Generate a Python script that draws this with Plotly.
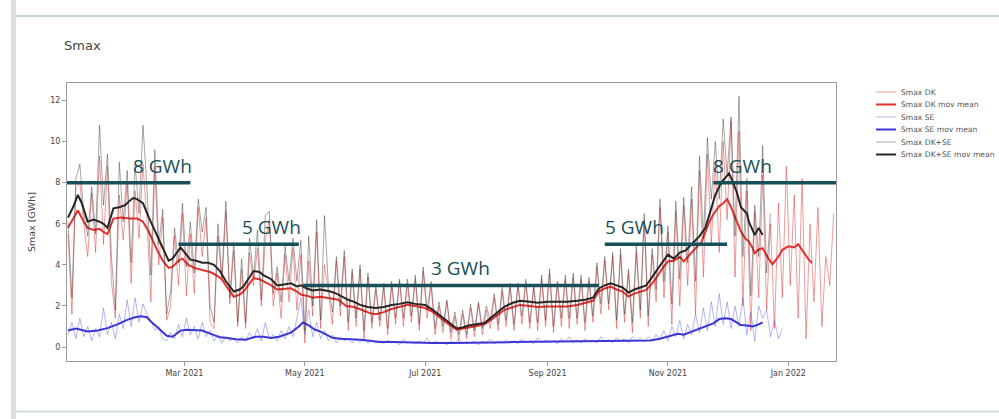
import plotly.graph_objects as go
import pandas as pd

# ---------------- data ----------------
START = "2021-01-01"          # first sample of the raw series (every 2 days)

# Raw daily Smax [GWh], read every 2nd day starting 2021-01-01
dk_raw = [
    5.5, 1.6, 7.8, 8.0, 6.0, 4.4, 7.5, 4.6, 9.3, 5.0,
    8.8, 3.2, 1.4, 7.4, 5.2, 8.0, 3.1, 7.6, 5.3, 8.9,
    6.2, 2.2, 8.8, 4.0, 6.3, 1.3, 2.0, 5.4, 3.0, 6.5,
    2.5, 5.5, 2.6, 6.8, 4.4, 6.3, 1.2, 0.9, 5.4, 3.2,
    6.6, 2.1, 4.7, 1.0, 3.8, 0.9, 4.6, 3.0, 4.8, 2.0,
    5.2, 6.2, 2.0, 3.6, 1.4, 4.5, 2.2, 4.8, 1.8, 4.5,
    0.2, 4.2, 1.5, 5.6, 0.9, 4.0, 2.6, 1.1, 4.2, 1.5,
    4.4, 0.8, 3.6, 1.0, 3.8, 0.4, 3.4, 0.9, 2.8,
    1.0, 2.9, 0.6, 3.0, 1.1, 3.2, 1.0, 3.1, 1.2, 3.3,
    0.8, 3.7, 1.4, 3.0, 0.6, 2.0, 0.7, 2.2, 0.4, 1.5,
    0.3, 1.6, 0.4, 1.9, 0.5, 2.1, 0.6, 1.8, 0.9, 2.4,
    0.8, 2.7, 1.0, 2.9, 0.8, 3.0, 1.1, 3.1, 0.9,
    2.9, 0.8, 3.3, 1.0, 3.6, 0.7, 3.1, 1.0, 3.3, 0.9,
    3.4, 1.1, 3.3, 0.8, 3.2, 1.2, 3.9, 1.6, 4.2, 1.8,
    4.4, 0.9, 4.5, 1.2, 3.6, 0.7, 4.6, 1.4, 6.2, 1.0,
    4.5, 2.2, 6.8, 2.4, 5.6, 1.1, 6.6, 2.0, 6.9,
    3.0, 7.2, 1.6, 8.6, 3.4, 9.4, 5.0, 9.0, 4.6, 10.0,
    6.2, 11.0, 3.4, 10.5, 2.0, 7.6, 0.8, 6.6, 2.4, 8.4,
    1.8, 6.0, 0.9, 7.0, 2.4, 8.8, 3.0, 7.4, 1.4, 8.2,
    0.4, 6.0, 2.2, 6.8, 1.0, 4.4, 3.0, 6.5,
]

se_raw = [
    0.6, 1.2, 0.4, 1.4, 0.5, 1.0, 0.3, 0.9, 0.5, 1.9,
    0.6, 1.2, 0.4, 1.6, 0.9, 2.3, 1.0, 2.4, 1.2, 2.1,
    1.6, 1.3, 0.8, 1.0, 0.4, 0.3, 0.7, 0.4, 1.1, 0.5,
    1.4, 0.6, 1.0, 0.4, 1.2, 0.5, 0.8, 0.3, 0.6, 0.2,
    0.5, 0.3, 0.4, 0.2, 0.5, 0.3, 0.7, 0.4, 0.9, 0.3,
    1.2, 0.4, 0.6, 0.3, 0.8, 0.4, 1.0, 0.5, 1.4, 2.4,
    0.6, 1.8, 0.5, 1.2, 0.4, 0.8, 0.3, 0.6, 0.2, 0.5,
    0.3, 0.4, 0.2, 0.4, 0.2, 0.4, 0.2, 0.3, 0.2,
    0.3, 0.15, 0.35, 0.2, 0.3, 0.1, 0.4, 0.2, 0.25, 0.15,
    0.3, 0.2, 0.45, 0.15, 0.3, 0.2, 0.25, 0.1, 0.3, 0.2,
    0.35, 0.15, 0.25, 0.2, 0.3, 0.1, 0.3, 0.2, 0.4, 0.15,
    0.3, 0.2, 0.35, 0.2, 0.3, 0.15, 0.4, 0.2, 0.3, 0.15,
    0.45, 0.2, 0.35, 0.2, 0.3, 0.15, 0.4, 0.25, 0.5, 0.2,
    0.35, 0.2, 0.4, 0.25, 0.3, 0.2, 0.5, 0.25, 0.35, 0.2,
    0.45, 0.3, 0.4, 0.2, 0.5, 0.3, 0.45, 0.25, 0.5, 0.3,
    0.6,
    0.4, 0.8, 0.3, 1.0, 0.5, 1.3, 0.4, 1.1, 0.6, 1.6,
    0.7, 1.9, 0.8, 2.2, 1.0, 2.6, 1.1, 2.2, 0.9, 2.0,
    1.0, 2.4, 0.6, 1.7, 0.3, 2.0, 1.4, 1.8, 0.5, 1.3,
    0.4, 0.9,
]

dkse_raw = [
    6.1, 2.4, 8.2, 8.9, 6.5, 5.4, 7.8, 5.5, 10.8, 6.9,
    9.4, 4.4, 1.8, 9.0, 6.1, 8.6, 4.1, 8.9, 6.5, 10.8,
    7.8, 3.5, 9.6, 5.0, 6.7, 1.6, 2.7, 5.8, 4.1, 7.0,
    3.9, 6.1, 3.6, 7.2, 5.6, 6.8, 2.0, 1.2, 6.0, 3.4,
    7.1, 2.4, 5.1, 1.2, 4.3, 1.2, 5.3, 3.4, 5.7, 2.3,
    6.4, 6.6, 2.6, 3.9, 2.2, 4.9, 3.2, 5.3, 3.2, 5.2,
    0.8, 5.4, 2.0, 6.2, 1.3, 6.4, 2.9, 1.7, 4.4, 2.0,
    4.7, 1.2, 3.8, 1.4, 4.0, 0.8, 3.6, 1.2, 3.0,
    1.3, 3.1, 0.9, 3.2, 1.4, 3.3, 1.4, 3.3, 1.5, 3.5,
    1.1, 3.9, 1.8, 3.2, 0.9, 2.2, 1.0, 2.3, 0.7, 1.7,
    0.6, 1.8, 0.6, 2.1, 0.8, 2.2, 0.9, 2.0, 1.3, 2.6,
    1.1, 2.9, 1.3, 3.1, 1.1, 3.1, 1.5, 3.3, 1.2,
    3.0, 1.2, 3.5, 1.3, 3.8, 1.0, 3.2, 1.4, 3.5, 1.4,
    3.6, 1.4, 3.5, 1.2, 3.4, 1.5, 4.1, 2.1, 4.4, 2.1,
    4.6, 1.3, 4.8, 1.6, 3.8, 1.2, 4.9, 1.8, 6.5, 1.5,
    4.8, 2.8, 7.2, 3.2, 5.9, 2.1, 7.1, 3.3, 7.3,
    4.1, 7.8, 3.2, 9.3, 5.3, 10.2, 7.2, 10.0, 7.2, 11.1,
    8.4, 11.2, 5.4, 12.2, 4.4, 8.2, 2.5, 6.9, 4.4, 9.8,
    3.6, 6.5,
]

# Moving means: (days since 2021-01-01, value)
dk_mm = [
    (0, 5.8), (3, 6.3), (5, 6.65), (8, 6.1), (10, 5.8), (13, 5.7), (16, 5.75), (18, 5.6),
    (20, 5.5), (23, 6.25), (27, 6.3), (31, 6.25), (35, 6.25), (38, 6.1), (41, 5.6), (45, 4.75),
    (48, 4.2), (51, 3.85), (53, 3.9), (56, 4.2), (58, 4.3), (61, 4.0), (64, 3.85), (68, 3.75),
    (72, 3.65), (75, 3.5), (78, 3.3), (80, 3.0), (84, 2.45), (87, 2.55), (89, 2.7), (92, 3.1),
    (94, 3.35), (97, 3.3), (99, 3.2), (103, 3.0), (106, 2.8), (110, 2.85), (113, 2.86), (116, 2.7),
    (118, 2.55), (121, 2.5), (124, 2.4), (128, 2.45), (131, 2.4), (134, 2.38), (137, 2.3), (141, 2.0),
    (145, 1.95), (149, 1.8), (153, 1.65), (156, 1.6), (160, 1.7), (164, 1.85), (168, 1.95), (172, 2.06),
    (176, 2.0), (181, 1.9), (185, 1.7), (189, 1.38), (193, 1.1), (197, 0.84), (200, 0.88), (203, 0.95),
    (206, 1.0), (211, 1.1), (214, 1.3), (218, 1.57), (221, 1.8), (225, 1.93), (229, 2.05), (234, 2.0),
    (238, 1.95), (243, 1.97), (248, 1.97), (253, 1.97), (258, 2.05), (262, 2.15), (266, 2.25), (269, 2.7),
    (272, 2.85), (275, 2.94), (278, 2.8), (281, 2.7), (284, 2.46), (287, 2.6), (290, 2.7), (293, 2.78),
    (296, 3.1), (298, 3.35), (301, 3.8), (304, 4.16), (307, 4.2), (310, 4.4), (312, 4.16), (315, 4.5),
    (318, 4.81), (321, 5.1), (323, 5.62), (325, 6.1), (327, 6.45), (330, 6.86), (332, 7.0), (334, 7.19),
    (336, 6.8), (338, 6.3), (341, 5.62), (343, 5.3), (345, 5.14), (347, 4.8), (348, 4.56), (350, 4.75),
    (352, 4.81), (355, 4.3), (357, 4.03), (360, 4.4), (362, 4.73), (365, 4.9), (368, 4.85), (370, 5.0),
    (373, 4.56), (375, 4.3), (377, 4.08),
]

se_mm = [
    (0, 0.8), (4, 0.9), (8, 0.8), (10, 0.76), (15, 0.8), (20, 0.92), (25, 1.1), (30, 1.32),
    (34, 1.45), (37, 1.5), (40, 1.45), (42, 1.24), (46, 0.9), (50, 0.55), (53, 0.5), (57, 0.8),
    (60, 0.84), (65, 0.82), (68, 0.8), (72, 0.65), (77, 0.47), (80, 0.45), (85, 0.38), (90, 0.36),
    (95, 0.5), (99, 0.5), (103, 0.44), (107, 0.5), (110, 0.6), (113, 0.7), (117, 1.0), (119, 1.2),
    (122, 1.05), (125, 0.85), (128, 0.75), (131, 0.6), (134, 0.45), (138, 0.4), (143, 0.38), (148, 0.35),
    (153, 0.3), (158, 0.25), (165, 0.25), (175, 0.22), (185, 0.2), (195, 0.2), (205, 0.2), (215, 0.22),
    (225, 0.24), (235, 0.25), (245, 0.25), (255, 0.26), (265, 0.28), (275, 0.28), (285, 0.3), (295, 0.32),
    (300, 0.4), (305, 0.55), (309, 0.65), (312, 0.6), (316, 0.75), (320, 0.89), (324, 1.05), (327, 1.15),
    (330, 1.36), (333, 1.4), (336, 1.36), (339, 1.2), (341, 1.07), (344, 1.05), (347, 1.0), (350, 1.1),
    (352, 1.2),
]

dkse_mm = [
    (0, 6.3), (3, 6.9), (5, 7.4), (7, 7.0), (10, 6.1), (13, 6.2), (16, 6.1), (18, 6.0),
    (20, 5.8), (23, 6.75), (26, 6.8), (29, 6.9), (31, 7.1), (33, 7.25), (35, 7.2), (38, 7.0),
    (41, 6.3), (45, 5.45), (48, 4.8), (51, 4.2), (53, 4.3), (55, 4.6), (57, 4.85), (60, 4.5),
    (62, 4.25), (65, 4.2), (68, 4.1), (71, 4.1), (74, 4.0), (77, 3.7), (80, 3.2), (84, 2.7),
    (87, 2.8), (89, 2.95), (92, 3.4), (94, 3.7), (97, 3.65), (99, 3.5), (103, 3.3), (106, 3.0),
    (110, 3.05), (113, 3.1), (116, 2.95), (118, 3.0), (121, 2.85), (124, 2.75), (128, 2.8), (131, 2.75),
    (133, 2.7), (136, 2.6), (139, 2.45), (142, 2.3), (145, 2.2), (148, 2.05), (152, 1.95), (156, 1.9),
    (160, 1.95), (164, 2.05), (168, 2.1), (172, 2.18), (176, 2.1), (181, 2.05), (185, 1.8), (189, 1.5),
    (193, 1.2), (197, 0.9), (200, 0.95), (203, 1.05), (206, 1.1), (211, 1.17), (214, 1.4), (218, 1.73),
    (221, 1.95), (225, 2.14), (229, 2.25), (234, 2.2), (238, 2.15), (243, 2.2), (248, 2.2), (253, 2.2),
    (258, 2.25), (262, 2.3), (266, 2.4), (269, 2.85), (272, 3.0), (275, 3.1), (278, 3.0), (281, 2.9),
    (284, 2.65), (287, 2.8), (290, 2.9), (293, 3.0), (296, 3.4), (298, 3.7), (301, 4.1), (304, 4.5),
    (307, 4.3), (310, 4.6), (313, 4.7), (316, 5.0), (320, 5.4), (323, 5.8), (325, 6.45), (328, 7.4),
    (331, 8.0), (333, 8.2), (335, 8.45), (337, 8.0), (339, 7.5), (341, 6.8), (344, 6.5), (345, 6.1),
    (348, 5.45), (350, 5.8), (352, 5.45),
]

# Capacity level markers
level_gwh = [8, 5, 3, 5, 8]
level_text = ["8 GWh", "5 GWh", "3 GWh", "5 GWh", "8 GWh"]
level_start = ["2020-12-31 12:00", "2021-02-26", "2021-04-30", "2021-09-30", "2021-11-24"]
level_end = ["2021-03-04", "2021-04-28", "2021-09-27", "2021-12-01", "2022-01-25 04:00"]
level_label_at = ["2021-02-18", "2021-04-14", "2021-07-19", "2021-10-15", "2021-12-09"]

x_tick_vals = ["2021-03-01", "2021-05-01", "2021-07-01", "2021-09-01", "2021-11-01", "2022-01-01"]
x_tick_text = ["Mar 2021", "May 2021", "Jul 2021", "Sep 2021", "Nov 2021", "Jan 2022"]
X_RANGE = ["2020-12-31 12:00", "2022-01-25 04:00"]
Y_RANGE = [-0.68, 12.85]

# ---------------- helpers ----------------
base = pd.Timestamp(START)


def raw_dates(vals):
    return pd.date_range(START, periods=len(vals), freq="2D")


def mm_xy(pairs):
    days = [d for d, _ in pairs]
    vals = [v for _, v in pairs]
    return base + pd.to_timedelta(days, unit="D"), vals


FONT = "DejaVu Sans"
TEAL = "#185059"

series = [
    ("Smax DK", raw_dates(dk_raw), dk_raw, "rgba(215,35,35,0.45)", 1),
    ("Smax DK mov mean", *mm_xy(dk_mm), "#e3312d", 2),
    ("Smax SE", raw_dates(se_raw), se_raw, "rgba(70,70,225,0.4)", 1),
    ("Smax SE mov mean", *mm_xy(se_mm), "#3a36d6", 2),
    ("Smax DK+SE", raw_dates(dkse_raw), dkse_raw, "rgba(40,30,30,0.4)", 1),
    ("Smax DK+SE mov mean", *mm_xy(dkse_mm), "#262626", 2),
]

fig = go.Figure()
for name, xs, ys, color, width in series:
    fig.add_trace(go.Scatter(x=xs, y=ys, mode="lines", name=name,
                             line=dict(color=color, width=width),
                             showlegend=False))

# plot area in pixels (for page decoration + legend placement)
PL, PT, PR, PB = 67, 83, 836, 361


def fx(px):
    return (px - PL) / (PR - PL)


def fy(py):
    return (PB - py) / (PB - PT)


shapes = []
annotations = []

# level lines + labels
for lvl, txt, x0, x1, xl in zip(level_gwh, level_text, level_start, level_end, level_label_at):
    shapes.append(dict(type="line", xref="x", yref="y", x0=x0, x1=x1, y0=lvl, y1=lvl,
                       line=dict(color=TEAL, width=3.5), layer="above"))
    annotations.append(dict(x=xl, y=lvl, xref="x", yref="y", text=txt, showarrow=False,
                            yanchor="bottom", yshift=2,
                            font=dict(family="Open Sans", size=19, color=TEAL)))

# page decoration (surrounding notebook frame)
shapes.append(dict(type="rect", xref="paper", yref="paper", x0=fx(11), x1=fx(16),
                   y0=fy(419), y1=fy(0), fillcolor="#dedede", line=dict(width=0), layer="below"))
shapes.append(dict(type="line", xref="paper", yref="paper", x0=fx(16), x1=fx(999),
                   y0=fy(16), y1=fy(16), line=dict(color="#c6d3d6", width=2)))
shapes.append(dict(type="line", xref="paper", yref="paper", x0=fx(16), x1=fx(999),
                   y0=fy(411.5), y1=fy(411.5), line=dict(color="#d4dcdf", width=2)))

# compact legend
leg_rows = [92, 104.5, 117, 129.5, 142, 154.5]
for (name, _, _, color, width), ry in zip(series, leg_rows):
    shapes.append(dict(type="line", xref="paper", yref="paper", x0=fx(876), x1=fx(896),
                       y0=fy(ry), y1=fy(ry), line=dict(color=color, width=width)))
    annotations.append(dict(x=fx(899), y=fy(ry), xref="paper", yref="paper", text=name,
                            showarrow=False, xanchor="left", yanchor="middle",
                            font=dict(family=FONT, size=7.6, color="#555")))

axis_common = dict(showline=True, mirror=True, linecolor="#9a9a9a", linewidth=1,
                   ticks="outside", ticklen=4, tickcolor="#9a9a9a", showgrid=False,
                   zeroline=False, tickfont=dict(family=FONT, size=8, color="#444"))

fig.update_layout(
    width=999, height=419,
    margin=dict(l=PL, r=999 - PR, t=PT, b=419 - PB, pad=0),
    paper_bgcolor="white", plot_bgcolor="white",
    font=dict(family=FONT, size=8, color="#444"),
    title=dict(text="Smax", x=64 / 999, xanchor="left", xref="container",
               y=1 - 45 / 419, yanchor="middle", yref="container",
               font=dict(family=FONT, size=13, color="#444")),
    shapes=shapes,
    annotations=annotations,
    showlegend=False,
)
fig.update_xaxes(type="date", range=X_RANGE, tickvals=x_tick_vals, ticktext=x_tick_text,
                 **axis_common)
fig.update_yaxes(range=Y_RANGE, tick0=0, dtick=2,
                 title=dict(text="Smax [GWh]", font=dict(family=FONT, size=9.5, color="#444"),
                            standoff=12),
                 **axis_common)

fig.write_html("out.html", config={"displayModeBar": False},
               post_script="document.body.style.margin='0px';")
